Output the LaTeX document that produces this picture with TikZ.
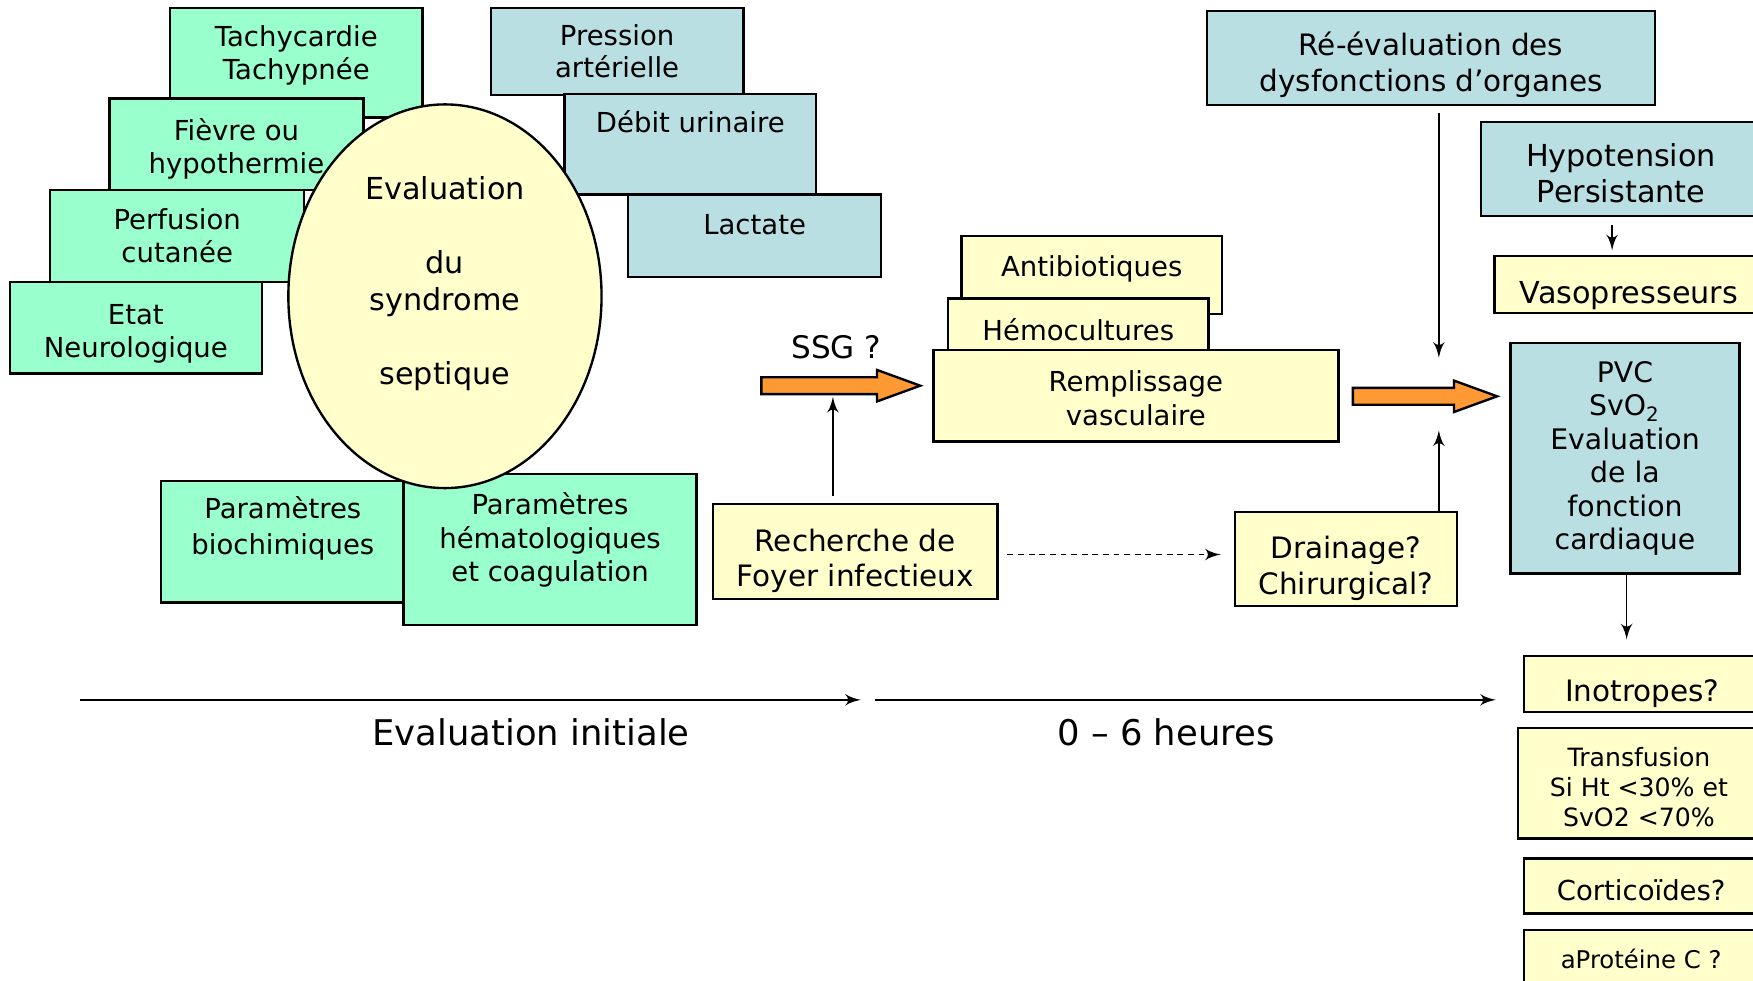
\documentclass[tikz,border=0pt]{standalone}
\usepackage{fontspec}
\setmainfont{DejaVu Sans}
\usepackage{tikz}
\usetikzlibrary{arrows, positioning, shapes}

\definecolor{boxgreen}{HTML}{99FFCC}
\definecolor{boxblue}{HTML}{B9DFE3}
\definecolor{boxyellow}{HTML}{FFFFCC}
\definecolor{arroworange}{HTML}{FF9933}

\begin{document}
\begin{tikzpicture}[x=0.01cm, y=-0.01cm,
  box/.style       = {draw, rectangle, line width=0.6pt, align=center, inner sep=0pt},
  greenbox/.style  = {box, fill=boxgreen , font=\fontsize{7}{8.25}\selectfont},
  bluebox/.style   = {box, fill=boxblue  , font=\fontsize{7}{8.25}\selectfont},
  yellowbox/.style = {box, fill=boxyellow, font=\fontsize{7.5}{9.1}\selectfont},
  bigarrow/.style  = {draw, fill=arroworange, line width=0.6pt, single arrow, single arrow head extend=0.065cm,
                      single arrow tip angle=40, single arrow head indent=0pt, inner xsep=0pt, inner ysep=0.065cm,
                      anchor=tail},
  link/.style      = {line width=0.4pt, -latex'},
]

\useasboundingbox (0,0) rectangle (1568,877);
\clip (0,0) rectangle (1568,877);

% evaluation initiale
\node [greenbox , minimum width=2.26cm, minimum height=0.98cm, text height=13.85pt, text depth=5.4pt] (tachy)   at (265,56)    {Tachycardie\\Tachypnée};
\node [greenbox , minimum width=2.27cm, minimum height=0.82cm, text height=15.2pt , text depth=0.5pt] (fievre)  at (211.5,129) {Fièvre ou\\hypothermie};
\node [greenbox , minimum width=2.27cm, minimum height=0.82cm                                      ] (perf)    at (158.5,211) {Perfusion\\cutanée};
\node [greenbox , minimum width=2.25cm, minimum height=0.82cm, text height=15.5pt , text depth=0.5pt] (etat)    at (121.5,293) {Etat\\Neurologique};
\node [greenbox , minimum width=2.18cm, minimum height=1.09cm, text height=14.7pt , text depth=8.3pt,
       font=\fontsize{7}{9.1}\selectfont                                                          ] (biochim) at (253,484.5) {Paramètres\\biochimiques};
\node [greenbox , minimum width=2.62cm, minimum height=1.35cm, text height=22.6pt , text depth=6.3pt,
       font=\fontsize{7}{8.5}\selectfont                                                          ] (hemato)  at (492,491.5) {Paramètres\\hématologiques\\et coagulation};

\node [bluebox  , minimum width=2.26cm, minimum height=0.78cm                                      ] (pression) at (552,46)    {Pression\\artérielle};
\node [bluebox  , minimum width=2.25cm, minimum height=0.90cm, text height=5.6pt, text depth=11.4pt] (debit)    at (617.5,129) {Débit urinaire};
\node [bluebox  , minimum width=2.26cm, minimum height=0.74cm, text height=5.6pt, text depth=6.3pt ] (lactate)  at (675,211)   {Lactate};

\node [draw, ellipse, fill=boxyellow, line width=0.6pt, inner sep=0pt, align=center,
       minimum width=2.80cm, minimum height=3.43cm, text height=53.2pt, text depth=8.3pt,
       font=\fontsize{7.7}{9.4}\selectfont                                                         ] (sepsis)   at (398,265)   {Evaluation\\[9.4pt]du\\syndrome\\[9.4pt]septique};

% 0 - 6 heures
\node [bigarrow , minimum height=1.42cm] (ssgarrow) at (680,345) {};
\node [font=\fontsize{7.9}{9.4}\selectfont] (ssg) at (748,311) {SSG ?};

\node [yellowbox, minimum width=2.33cm, minimum height=0.70cm, text height=5.6pt, text depth=4.6pt,
       font=\fontsize{7}{8.5}\selectfont ] (antibio)   at (976.5,246) {Antibiotiques};
\node [yellowbox, minimum width=2.33cm, minimum height=0.56cm,
       font=\fontsize{7}{8.5}\selectfont ] (hemoc)     at (964.5,295) {Hémocultures};
\node [yellowbox, minimum width=3.62cm, minimum height=0.82cm, text height=15.4pt, text depth=0.5pt,
       font=\fontsize{7}{8.5}\selectfont ] (rempl)     at (1016,354)  {Remplissage\\vasculaire};
\node [yellowbox, minimum width=2.54cm, minimum height=0.85cm, text height=18.4pt, text depth=0.5pt] (recherche) at (765,493.5) {Recherche de\\Foyer infectieux};
\node [yellowbox, minimum width=1.98cm, minimum height=0.84cm, text height=18.4pt, text depth=0.5pt] (drainage)  at (1204,500)  {Drainage?\\Chirurgical?};

\node [bigarrow , minimum height=1.29cm] (reevalarrow) at (1209,354.5) {};

\node [bluebox  , minimum width=4.00cm, minimum height=0.84cm, text height=17.3pt, text depth=0.5pt,
       font=\fontsize{7.5}{9.1}\selectfont] (reeval) at (1280,52)    {Ré-évaluation des\\dysfonctions d’organes};
\node [bluebox  , minimum width=2.50cm, minimum height=0.84cm, text height=17.4pt, text depth=0.5pt,
       font=\fontsize{7.7}{9.1}\selectfont] (hypo)   at (1450,151)   {Hypotension\\Persistante};
\node [yellowbox, minimum width=2.40cm, minimum height=0.51cm, text height=10pt, text depth=0.5pt,
       font=\fontsize{7.7}{9.1}\selectfont] (vaso)   at (1457,254.5) {Vasopresseurs};
\node [bluebox  , minimum width=2.05cm, minimum height=2.06cm,
       font=\fontsize{7.2}{8.5}\selectfont] (pvc)    at (1453.5,410) {PVC\\SvO\textsubscript{2}\\Evaluation\\de la\\fonction\\cardiaque};

\node [yellowbox, minimum width=2.12cm, minimum height=0.50cm, text height=9.3pt, text depth=0.5pt] (inotropes) at (1469,612) {Inotropes?};
\node [yellowbox, minimum width=2.16cm, minimum height=0.99cm, text height=22.8pt, text depth=0.5pt,
       font=\fontsize{6.4}{7.7}\selectfont] (transf)  at (1466,700.5) {Transfusion\\Si Ht <30\% et\\SvO2 <70\%};
\node [yellowbox, minimum width=2.10cm, minimum height=0.49cm, text height=7.8pt, text depth=0.5pt,
       font=\fontsize{7}{8.5}\selectfont] (cortico) at (1468,792.5) {Corticoïdes?};
\node [yellowbox, minimum width=2.10cm, minimum height=0.52cm,
       font=\fontsize{6.2}{8}\selectfont] (aprot)   at (1468,858)   {aProtéine C ?};

\draw [link] ([shift={(-20,-6)}]recherche.north) -- ([shift={(65,10)}]ssgarrow.tail);
\draw [link, dash pattern=on 1.5pt off 1.2pt] ([shift={(8,2.5)}]recherche.east) -- ([shift={(-12,-4)}]drainage.west);
\draw [link] ([shift={(83,0)}]drainage.north) -- ([shift={(78,30.5)}]reevalarrow.tail);
\draw [link] ([shift={(7,6)}]reeval.south) -- ([shift={(78,-34.5)}]reevalarrow.tail);
\draw [link] ([shift={(-8,7)}]hypo.south) -- ([shift={(-15,-4)}]vaso.north);
\draw [link] ([shift={(1.5,0)}]pvc.south) -- ([shift={(-14,-14)}]inotropes.north);

% time line
\coordinate (t0) at (72,626);
\coordinate (t1) at (770,626);
\coordinate (t2) at (783,626);
\coordinate (t3) at (1338,626);
\draw [link] (t0) -- (t1);
\draw [link] (t2) -- (t3);
\node [font=\fontsize{9}{11}\selectfont] (inittxt) at (475,655)  {Evaluation initiale};
\node [font=\fontsize{9}{11}\selectfont] (sixh)    at (1043,655) {0 – 6 heures};

\end{tikzpicture}
\end{document}
